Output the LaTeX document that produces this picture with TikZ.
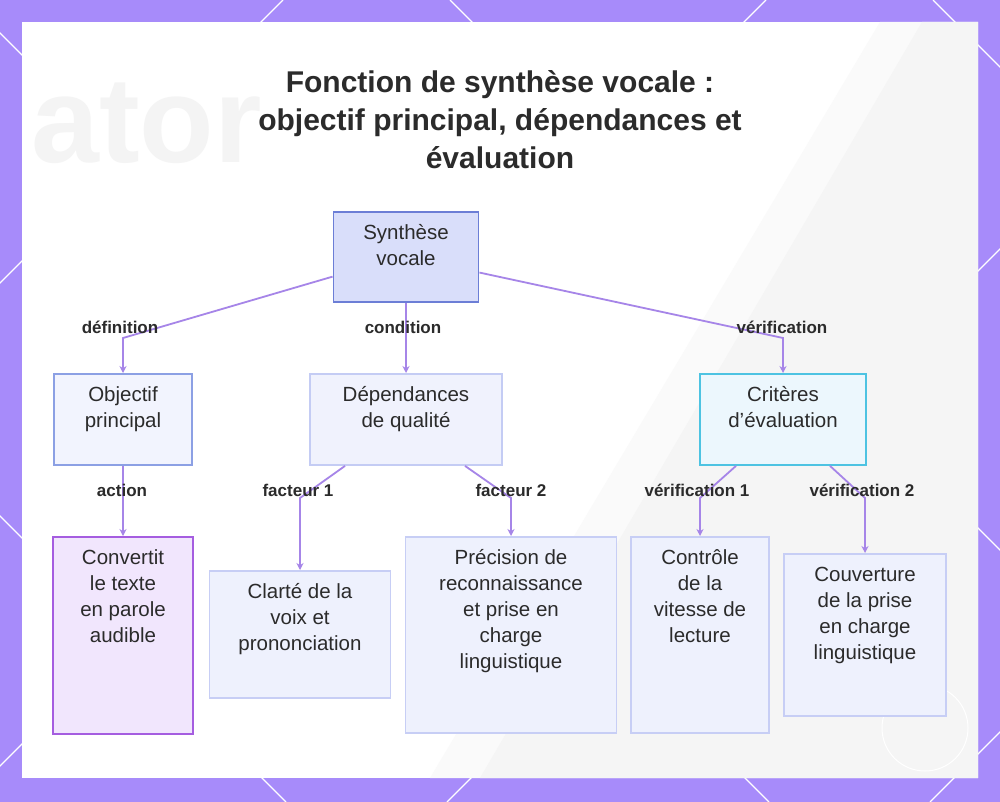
\documentclass[tikz,border=0pt]{standalone}
\usepackage{fontspec}
\setmainfont{Liberation Sans}
\usetikzlibrary{arrows.meta}

\definecolor{bgpurple}{HTML}{A78BFA}
\definecolor{linkcol}{HTML}{A685E8}
\definecolor{txtcol}{HTML}{2B2B2B}
\definecolor{synfill}{HTML}{D9DEFA}
\definecolor{synline}{HTML}{6C7ED6}
\definecolor{objfill}{HTML}{F2F4FE}
\definecolor{objline}{HTML}{8CA0E4}
\definecolor{depfill}{HTML}{F0F2FD}
\definecolor{depline}{HTML}{C4CCF4}
\definecolor{critfill}{HTML}{ECF7FD}
\definecolor{critline}{HTML}{4DC3E2}
\definecolor{convfill}{HTML}{F1E6FD}
\definecolor{convline}{HTML}{A55DE0}
\definecolor{subfill}{HTML}{EEF1FD}
\definecolor{subline}{HTML}{C7CEF5}

\newcommand{\boxtext}[3]{\parbox[t][#2pt][t]{#1pt}{\centering\vspace*{9pt}\strut#3}}

\begin{document}
\begin{tikzpicture}[x=1pt,y=-1pt,
		box/.style={draw, line width=1.9pt, inner sep=0pt, anchor=north, text=txtcol, font=\fontsize{20.5}{26}\selectfont},
		lbl/.style={font=\bfseries\fontsize{17}{20}\selectfont, text=txtcol, inner sep=0pt},
		link/.style={draw=linkcol, line width=1.8pt, -{Stealth[length=7pt,width=7pt]}},
		deco/.style={white, line width=1.2pt}]
		\fill [bgpurple] (0,0) rectangle (1000,802);
		\begin{scope}
			\clip (0,0) rectangle (1000,802);
			\foreach \cc in {-200,283,766,1249,1732}
				\draw [deco] (\cc,0) -- (\cc-802,802);
			\foreach \cc in {-516,-33,450,933}
				\draw [deco] (\cc,0) -- (\cc+802,802);
		\end{scope}
		\fill [white] (22,22) rectangle (978,778);
		\fill [gray!4] (880,22) -- (978,22) -- (978,778) -- (430,778) -- cycle;
		\fill [gray!8] (922,22) -- (978,22) -- (978,778) -- (480,778) -- cycle;
		\node [anchor=base west, text=gray!9, font=\bfseries\fontsize{122}{122}\selectfont] (bgword) at (28,163) {ator};
		\draw [white, line width=1pt] (925,728) circle (43pt);

		\node [align=center, text=txtcol, font=\bfseries\fontsize{30}{38}\selectfont] (title) at (500,120) {Fonction de synthèse vocale :\\objectif principal, dépendances et\\évaluation};

		\node [box, fill=synfill, draw=synline] (synth) at (406,211) {\boxtext{145}{90}{Synthèse\\vocale}};
		\node [box, fill=objfill, draw=objline] (obj) at (123,373) {\boxtext{138}{91}{Objectif\\principal}};
		\node [box, fill=depfill, draw=depline] (dep) at (406,373) {\boxtext{192}{91}{Dépendances\\de qualité}};
		\node [box, fill=critfill, draw=critline] (crit) at (783,373) {\boxtext{166}{91}{Critères\\d’évaluation}};
		\node [box, fill=convfill, draw=convline] (conv) at (123,536) {\boxtext{140}{197}{Convertit\\le texte\\en parole\\audible}};
		\node [box, fill=subfill, draw=subline] (clar) at (300,570) {\boxtext{181}{127}{Clarté de la\\voix et\\prononciation}};
		\node [box, fill=subfill, draw=subline] (prec) at (511,536) {\boxtext{211}{196}{Précision de\\reconnaissance\\et prise en\\charge\\linguistique}};
		\node [box, fill=subfill, draw=subline] (ctrl) at (700,536) {\boxtext{138}{196}{Contrôle\\de la\\vitesse de\\lecture}};
		\node [box, fill=subfill, draw=subline] (couv) at (865,553) {\boxtext{162}{162}{Couverture\\de la prise\\en charge\\linguistique}};

		\coordinate (bdef) at (123,338);
		\coordinate (bver) at (783,338);
		\coordinate (bf1) at (300,498);
		\coordinate (bf2) at (511,498);
		\coordinate (bv1) at (700,498);
		\coordinate (bv2) at (865,498);

		\draw [link] (synth.195) -- (bdef) -- (obj.north);
		\draw [link] (synth.south) -- (dep.north);
		\draw [link] (synth.348) -- (bver) -- (crit.north);
		\draw [link] (obj.south) -- (conv.north);
		\draw [link] ([xshift=-61pt]dep.south) -- (bf1) -- (clar.north);
		\draw [link] ([xshift=59pt]dep.south) -- (bf2) -- (prec.north);
		\draw [link] ([xshift=-47pt]crit.south) -- (bv1) -- (ctrl.north);
		\draw [link] ([xshift=47pt]crit.south) -- (bv2) -- (couv.north);

		\node [lbl] (ldef) at (120,327) {définition};
		\node [lbl] (lcond) at (403,327) {condition};
		\node [lbl] (lver) at (782,327) {vérification};
		\node [lbl] (lact) at (122,490) {action};
		\node [lbl] (lf1) at (298,490) {facteur 1};
		\node [lbl] (lf2) at (511,490) {facteur 2};
		\node [lbl] (lv1) at (697,490) {vérification 1};
		\node [lbl] (lv2) at (862,490) {vérification 2};
	\end{tikzpicture}
\end{document}
